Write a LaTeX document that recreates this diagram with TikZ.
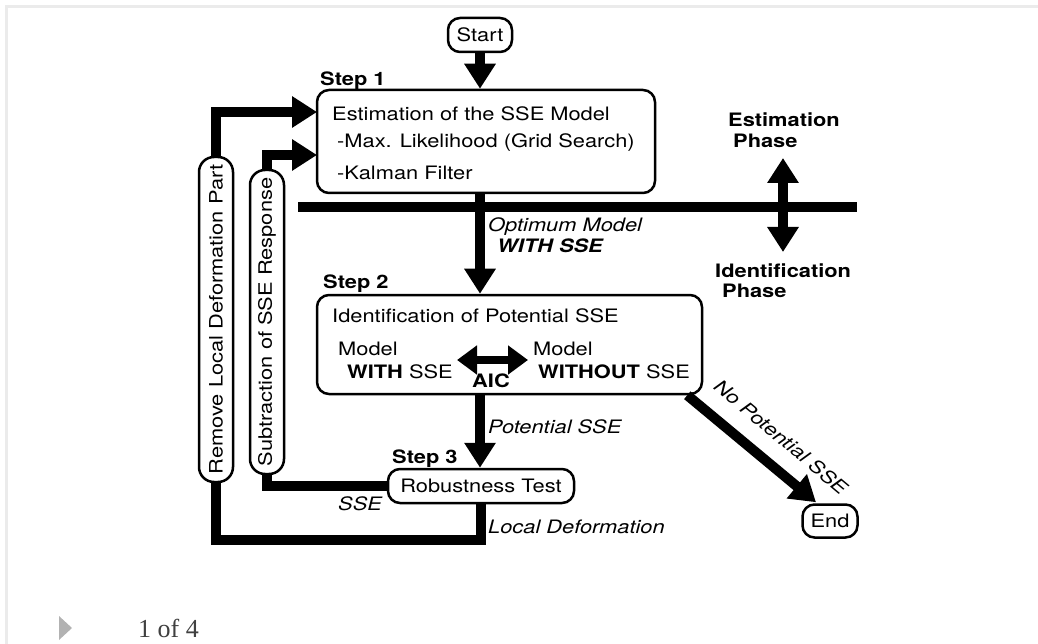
\documentclass[tikz,border=0pt]{standalone}
\usepackage{fontspec}
\setmainfont{TeX Gyre Heros}[FakeStretch=1.18]
\newfontfamily\pagerfont{Liberation Serif}
\usetikzlibrary{arrows.meta,calc}
\newcommand\fsz{\fontsize{18.5}{22}\selectfont}
\tikzset{
 txt/.style={inner sep=0pt, anchor=base west, font=\fsz},
 bftxt/.style={inner sep=0pt, anchor=base west, font=\fsz\bfseries},
 ittxt/.style={inner sep=0pt, anchor=base west, font=\fsz\itshape},
 box/.style={draw, line width=2.5pt, rounded corners=12pt, inner sep=0pt, font=\fsz},
 vbox/.style={box, rounded corners=15pt, rotate=90, minimum height=34pt},
 bigline/.style={line width=10pt},
 bigarrow/.style={line width=10pt, -{Triangle[length=25pt,width=30pt]}},
 dblarrow/.style={line width=10pt, {Triangle[length=25pt,width=30pt]}-{Triangle[length=25pt,width=30pt]}},
 aicarrow/.style={line width=8pt, {Triangle[length=20pt,width=28pt]}-{Triangle[length=20pt,width=28pt]}},
}
\begin{document}
\begin{tikzpicture}[x=1pt,y=-1pt]
\useasboundingbox (0,0) rectangle (1038,644);
% page frame
\draw[black!8, line width=3pt] (6,644) -- (6,7) -- (1038,7);

% boxes
\node[box, minimum width=64pt, minimum height=34pt] (start) at (480,35) {Start};
\node[box, minimum width=338pt, minimum height=103pt] (s1) at (486,141.5) {};
\node[box, minimum width=385pt, minimum height=99pt] (s2) at (509.5,344.5) {};
\node[box, minimum width=186pt, minimum height=34pt] (rob) at (481,486) {Robustness Test};
\node[box, minimum width=55pt, minimum height=33pt] (endn) at (830,521) {End};
\node[vbox, minimum width=325pt] (remove) at (216,319.5) {Remove Local Deformation Part};
\node[vbox, minimum width=304pt] (sub) at (267,322) {Subtraction of SSE Response};

% texts
\node[bftxt] (st1) at (320,86) {Step 1};
\node[txt] (s1a) at (332,121) {Estimation of the SSE Model};
\node[txt] (s1b) at (337,148) {-Max. Likelihood (Grid Search)};
\node[txt] (s1c) at (337,180) {-Kalman Filter};
\node[ittxt] (om1) at (488,232) {Optimum Model};
\node[txt, font=\fsz\bfseries\itshape] (om2) at (497,253) {WITH SSE};
\node[bftxt] (st2) at (323,288) {Step 2};
\node[txt] (s2a) at (332,322) {Identification of Potential SSE};
\node[txt] (mw1) at (338,355) {Model};
\node[txt] (mw2) at (347,378) {\textbf{WITH} SSE};
\node[txt] (mo1) at (533,355) {Model};
\node[txt] (mo2) at (538,378) {\textbf{WITHOUT} SSE};
\node[bftxt, anchor=base] (aic) at (491,387) {AIC};
\node[ittxt] (pot) at (488,433) {Potential SSE};
\node[bftxt] (st3) at (392,463) {Step 3};
\node[ittxt] (sse) at (338,510) {SSE};
\node[ittxt] (locd) at (488,533) {Local Deformation};
\node[bftxt] (ep1) at (728,127) {Estimation};
\node[bftxt] (ep2) at (733,148) {Phase};
\node[bftxt] (ip1) at (715,277) {Identification};
\node[bftxt] (ip2) at (722,298) {Phase};
\node[ittxt, anchor=center, rotate=-40] (nop) at (781,437) {No Potential SSE};

% coordinates
\coordinate (phl) at (298,207);
\coordinate (phr) at (857,207);
\coordinate (in1) at (317,112);
\coordinate (in2) at (317,155);
\coordinate (ldc) at (216,540);
\coordinate (aicl) at (457,360);
\coordinate (aicr) at (528,360);
\coordinate (pht) at (783,158);
\coordinate (phb) at (783,252);

% connectors
\draw[bigline] (phl) -- (phr);
\draw[bigarrow] (start.south) -- (start.south |- s1.north);
\draw[bigarrow] (start.south |- s1.south) -- (start.south |- s2.north);
\draw[bigarrow] (start.south |- s2.south) -- (start.south |- rob.north);
\draw[bigline] (rob.south) |- (ldc) -- (remove.west);
\draw[bigline] (rob.west) -| (sub.west);
\draw[bigarrow] (remove.east) |- (in1);
\draw[bigarrow] (sub.east) |- (in2);
\draw[bigarrow] ($(s2.south east)+(-16,0)$) -- ($(endn.north)+(-14,-1)$);
\draw[aicarrow] (aicl) -- (aicr);
\draw[dblarrow] (pht) -- (phb);

% pager
\fill[black!30] (59,616) -- (72,628) -- (59,640) -- cycle;
\node[anchor=base west, inner sep=0pt, font=\pagerfont\fontsize{26}{30}\selectfont, text=black!75] (pager) at (138,637) {1 of 4};
\end{tikzpicture}
\end{document}
